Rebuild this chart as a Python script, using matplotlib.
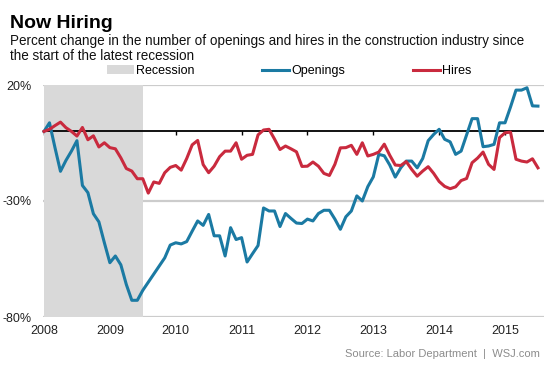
import matplotlib.pyplot as plt
import numpy as np
from matplotlib.patches import Patch
from matplotlib.lines import Line2D

plt.rcParams['font.family'] = ['Liberation Sans', 'DejaVu Sans']

########################################## DATA ##########################################
# percent change since start of recession, monthly Dec 2007 .. Jun 2015
openings = [0, 3.7, -7, -17.2, -12.5, -8.5, -4, -23.3, -26.4, -35.5,
            -39, -48, -56.6, -53.7, -57.5, -66, -72.8, -72.8, -68.5, -65,
            -61.5, -58, -54.5, -49, -48, -48.5, -47.5, -43, -38.6, -40.5,
            -35.8, -45, -45, -53.7, -41.5, -46.6, -45.8, -56.3, -52.7, -49.2,
            -33, -34.3, -34.3, -41, -35.4, -37.5, -39.5, -39.7, -37.8, -38.6,
            -35.4, -34, -34, -37.8, -42.2, -36.8, -34.3, -27.8, -30, -23.8,
            -19.6, -9.9, -10.5, -14.5, -19.7, -15.7, -12.8, -12.8, -15.7, -11.7,
            -4, -1.3, 0.9, -3.4, -4.5, -9.9, -8.5, -1.5, 5.5, 5.5,
            -6.6, -6.3, -5.6, 3.7, 3.7, 10.5, 17.8, 17.8, 18.8, 11, 10.9]
hires = [0, 0.9, 2.5, 4, 1.6, 0, -2, 1.7, -3.6, -1.9,
         -6.7, -4.9, -7, -7.5, -11.4, -16, -17.1, -20.4, -20.4, -26.6,
         -21.8, -22.4, -17.8, -15.5, -14.7, -16.7, -11.7, -5.8, -3.9, -14.3,
         -17.8, -15, -10.9, -8.5, -8.5, -4.9, -12, -10.3, -9.9, -1.5,
         0.6, 0.9, -3.3, -7.8, -6.3, -7.5, -8.8, -15.1, -15, -13.2,
         -15, -18.1, -19, -14.2, -7.1, -7, -6, -9.9, -4.9, -10.6,
         -9.9, -8.9, -5.5, -10.3, -14.5, -14.7, -13, -16.4, -19.3, -17.1,
         -15.2, -18.1, -21.6, -23.7, -24.7, -23.9, -21.2, -20.3, -13.5, -11.5,
         -8.9, -14.2, -16.4, -2.7, -0.6, -0.3, -12, -12.8, -13.2, -11.8, -15.7]
recession = (0, 18)   # month index: Dec 2007 .. Jun 2009
years = [2008, 2009, 2010, 2011, 2012, 2013, 2014, 2015]
yvals = [20, -30, -80]
##########################################################################################

BLUE = '#1b7aa3'
RED = '#c92a3e'
GREY = '#d9d9d9'
W, H = 553, 369

x = years[0] + np.arange(len(openings)) / 12

fig = plt.figure(figsize=(W / 100, H / 100), dpi=100)
ax = fig.add_axes([43 / W, 1 - 317 / H, 501 / W, 232 / H])

ax.axvspan(years[0] + recession[0] / 12, years[0] + recession[1] / 12, color=GREY, lw=0, zorder=1)
ax.axhline(0, color='black', lw=1.3, zorder=2)
ax.plot(x, openings, color=BLUE, lw=2.2, zorder=3, solid_joinstyle='round', clip_on=False)
ax.plot(x, hires, color=RED, lw=2.2, zorder=3, solid_joinstyle='round', clip_on=False)

ax.set_xlim(2008 - 1 / 65.86, 2008 + 500 / 65.86)
ax.set_ylim(-80, 20)
ax.set_yticks(yvals)
ax.set_yticklabels(['{}%'.format(v) for v in yvals])
ax.set_xticks(years)
ax.set_xticklabels([str(y) for y in years])
ax.tick_params(axis='both', length=0, labelsize=9, colors='#222222')
ax.tick_params(axis='y', pad=8)
ax.tick_params(axis='x', pad=6)
ax.yaxis.grid(True, color='#cccccc', lw=1.6)
ax.set_axisbelow(True)
for s in ax.spines.values():
    s.set_visible(False)

# small year ticks hanging from the zero line
sec = ax.secondary_xaxis(0.8)
sec.set_xticks(years)
sec.tick_params(direction='in', length=3, width=1, color='black', labeltop=False, labelbottom=False)
for s in sec.spines.values():
    s.set_visible(False)

fig.text(10 / W, 1 - 27.5 / H, 'Now Hiring', fontsize=14, fontweight='bold', va='baseline')
fig.text(10 / W, 1 - 45 / H, 'Percent change in the number of openings and hires in the construction industry since',
         fontsize=9.75, va='baseline', color='#111111')
fig.text(10 / W, 1 - 60 / H, 'the start of the latest recession', fontsize=9.75, va='baseline', color='#111111')

handles = [Patch(facecolor=GREY, edgecolor='none', label='Recession'),
           Line2D([], [], color=BLUE, lw=2.2, label='Openings'),
           Line2D([], [], color=RED, lw=2.2, label='Hires')]
fig.legend(handles=handles, loc='center', bbox_to_anchor=(289 / W, 1 - 71 / H), ncol=3, frameon=False,
           fontsize=9, handlelength=2.2, handletextpad=0.15, columnspacing=5.4, borderpad=0, borderaxespad=0)

fig.text(540 / W, 1 - 357 / H, 'Source: Labor Department  |  WSJ.com', ha='right', va='baseline',
         fontsize=8, color='#8c8c8c')

fig.savefig('out.png', dpi=100)
